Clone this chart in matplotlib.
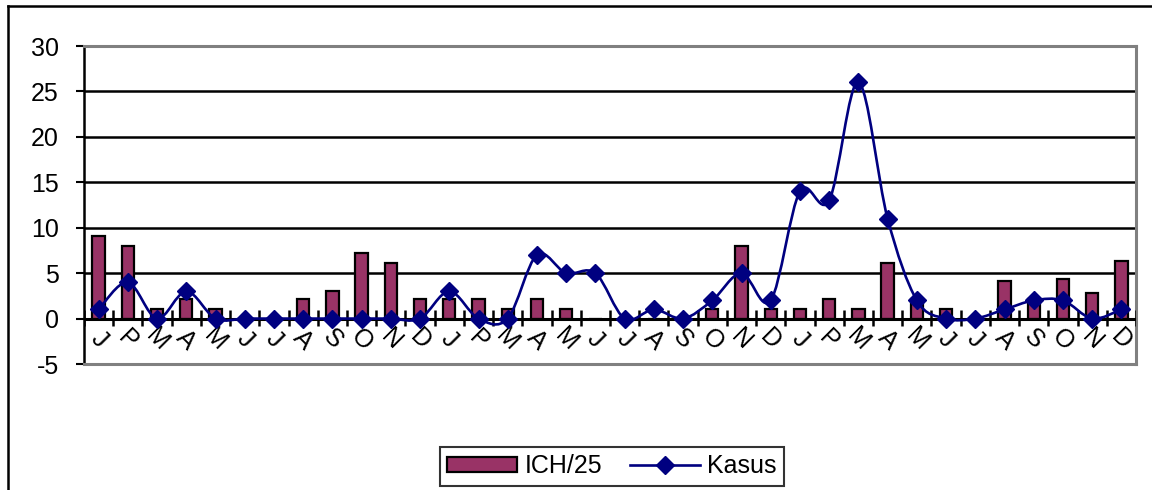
import matplotlib
matplotlib.use("Agg")
import matplotlib.pyplot as plt
from matplotlib.path import Path
from matplotlib.patches import PathPatch, Patch
from matplotlib.lines import Line2D
import numpy as np

plt.rcParams['font.family'] = ['Liberation Sans', 'DejaVu Sans']
plt.rcParams['axes.unicode_minus'] = False

# three years of months (P = Pebruari)
months = ['J', 'P', 'M', 'A', 'M', 'J', 'J', 'A', 'S', 'O', 'N', 'D'] * 3

ich25 = [9.1, 8.0, 1.0, 2.1, 1.0, 0, 0, 2.1, 3.0, 7.2, 6.1, 2.1,
         2.1, 2.1, 1.0, 2.1, 1.0, 0, 0, 0, 0, 1.0, 8.0, 1.0,
         1.0, 2.1, 1.0, 6.1, 2.2, 1.0, 0, 4.1, 2.1, 4.4, 2.8, 6.3]

kasus = [1, 4, 0, 3, 0, 0, 0, 0, 0, 0, 0, 0,
         3, 0, 0, 7, 5, 5, 0, 1, 0, 2, 5, 2,
         14, 13, 26, 11, 2, 0, 0, 1, 2, 2, 0, 1]

bar_color = '#993366'
line_color = '#000080'
fsize = 18

fig = plt.figure(figsize=(11.52, 4.9), dpi=100)
ax = fig.add_axes([84 / 1152, 1 - 364 / 490, 1052 / 1152, 318 / 490])

x = np.arange(len(months))

ax.bar(x, ich25, width=0.42, color=bar_color, edgecolor='black', linewidth=1.6, zorder=2)


# smoothed line like the spreadsheet one (cubic bezier through the points)
def smooth_path(xs, ys):
    pts = np.column_stack([xs, ys]).astype(float)
    n = len(pts)
    verts = [pts[0]]
    codes = [Path.MOVETO]
    for i in range(n - 1):
        p0 = pts[i - 1] if i > 0 else pts[i]
        p1 = pts[i]
        p2 = pts[i + 1]
        p3 = pts[i + 2] if i + 2 < n else pts[i + 1]
        c1 = p1 + (p2 - p0) / 6.0
        c2 = p2 - (p3 - p1) / 6.0
        verts += [c1, c2, p2]
        codes += [Path.CURVE4] * 3
    return Path(verts, codes)


ax.add_patch(PathPatch(smooth_path(x, kasus), facecolor='none', edgecolor=line_color,
                       linewidth=1.9, zorder=3))
ax.plot(x, kasus, linestyle='none', marker='D', markersize=9, color=line_color, zorder=4)

ax.set_xlim(-0.5, len(months) - 0.5)
ax.set_ylim(-5, 30)
ax.set_yticks(np.arange(-5, 31, 5))
ax.tick_params(axis='y', direction='out', length=6, width=1.5, pad=12, labelsize=fsize)
ax.set_xticks([])

ax.yaxis.grid(True, color='black', linewidth=1.8)
for s in ['top', 'right', 'bottom']:
    ax.spines[s].set_color('#808080')
    ax.spines[s].set_linewidth(2.2)
ax.spines['left'].set_linewidth(1.8)

# category axis at zero with cross ticks
ax.axhline(0, color='black', linewidth=2.2, zorder=2.6)
ax.vlines(np.arange(-0.5, len(months)), -0.8, 0.9, color='black', linewidth=1.8, zorder=2.6)

for i, m in enumerate(months):
    ax.text(i, -2.3, m, rotation=-45, ha='center', va='center', fontsize=fsize, clip_on=False)

handles = [Patch(facecolor=bar_color, edgecolor='black', linewidth=1.6),
           Line2D([], [], color=line_color, linewidth=1.9, marker='D', markersize=9)]
leg = fig.legend(handles, ['ICH/25', 'Kasus'], loc='center', bbox_to_anchor=(612 / 1152, 1 - 466 / 490),
                 ncol=2, fontsize=fsize, frameon=True, fancybox=False, handlelength=2.8,
                 handleheight=0.55, handletextpad=0.3, columnspacing=1.1, borderpad=0.3)
leg.get_frame().set_edgecolor('black')
leg.get_frame().set_linewidth(1.5)

# outer chart border
fig.add_artist(Line2D([8 / 1152, 1], [1 - 6 / 490, 1 - 6 / 490], color='black', linewidth=1.8,
                      transform=fig.transFigure))
fig.add_artist(Line2D([8 / 1152, 8 / 1152], [0, 1 - 6 / 490], color='black', linewidth=1.8,
                      transform=fig.transFigure))

fig.savefig('out.png', dpi=100)
